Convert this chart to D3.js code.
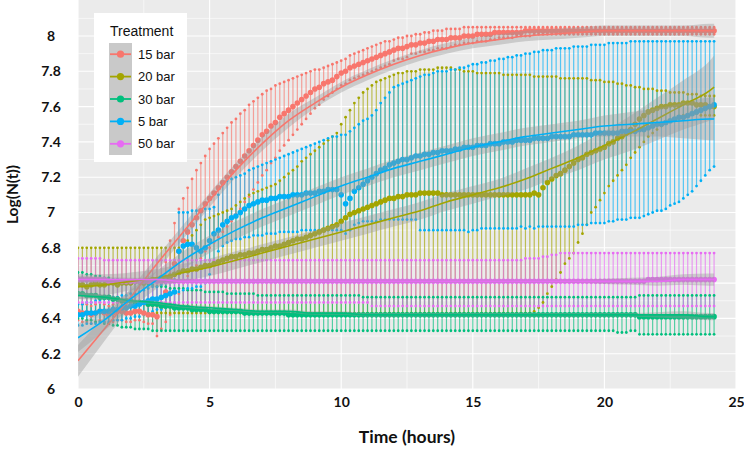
<!DOCTYPE html>
<html><head><meta charset="utf-8">
<script src="https://cdn.jsdelivr.net/npm/d3@7"></script>
<style>body{margin:0;background:#fff;} svg{display:block;}</style>
</head><body><svg id="c" width="744" height="449"></svg>
<script>
// ---------- categories / ticks ----------
const treatments = ["15 bar","20 bar","30 bar","5 bar","50 bar"];
const colors = ["#F8766D","#A3A500","#00BF7D","#00B0F6","#E76BF3"];
const xTicks = [0,5,10,15,20,25];
const yTicks = [6,6.2,6.4,6.6,6.8,7,7.2,7.4,7.6,7.8,8];
const yTickLabels = ["6","6.2","6.4","6.6","6.8","7","7.2","7.4","7.6","7.8","8"];
const stepHours = 1/6; // one measurement every 10 minutes

// ---------- 15 bar ----------
const mean15 = [
6.44,6.43,6.43,6.42,6.43,6.44,6.43,6.42,6.43,6.44,6.44,6.43,
6.43,6.44,6.44,6.43,6.42,6.42,6.41,6.47,6.55,6.63,6.71,6.78,
6.84,6.89,6.93,6.97,7.01,7.05,7.08,7.11,7.14,7.17,7.20,7.23,
7.26,7.29,7.32,7.35,7.38,7.41,7.44,7.46,7.49,7.51,7.54,7.56,
7.58,7.60,7.62,7.64,7.66,7.68,7.70,7.71,7.73,7.74,7.75,7.77,
7.79,7.80,7.82,7.83,7.84,7.85,7.86,7.87,7.88,7.89,7.90,7.91,
7.92,7.93,7.93,7.94,7.95,7.95,7.96,7.96,7.97,7.97,7.98,7.98,
7.98,7.99,7.99,7.99,8.00,8.00,8.00,8.01,8.01,8.01,8.01,8.02,
8.02,8.02,8.02,8.02,8.02,8.02,8.03,8.03,8.03,8.03,8.03,8.03,
8.03,8.03,8.03,8.03,8.03,8.03,8.03,8.03,8.03,8.03,8.03,8.03,
8.03,8.03,8.03,8.03,8.03,8.03,8.03,8.03,8.03,8.03,8.03,8.03,
8.03,8.03,8.03,8.03,8.03,8.03,8.03,8.03,8.03,8.03,8.03,8.03,
8.03,8.03];
const upper15 = [
6.49,6.48,6.48,6.47,6.48,6.49,6.48,6.47,6.48,6.49,6.49,6.48,
6.48,6.49,6.49,6.48,6.47,6.47,6.47,6.60,6.72,6.84,6.94,7.02,
7.08,7.14,7.19,7.24,7.28,7.32,7.36,7.39,7.42,7.45,7.48,7.51,
7.53,7.56,7.58,7.61,7.63,7.65,7.67,7.69,7.70,7.72,7.73,7.74,
7.75,7.76,7.77,7.78,7.79,7.80,7.81,7.81,7.82,7.83,7.84,7.85,
7.86,7.87,7.89,7.90,7.91,7.92,7.93,7.94,7.95,7.96,7.97,7.97,
7.98,7.99,7.99,8.00,8.00,8.01,8.01,8.02,8.02,8.03,8.03,8.03,
8.04,8.04,8.04,8.04,8.05,8.05,8.05,8.05,8.05,8.05,8.05,8.05,
8.05,8.05,8.05,8.05,8.05,8.05,8.05,8.05,8.05,8.05,8.05,8.05,
8.05,8.05,8.05,8.05,8.05,8.05,8.05,8.05,8.05,8.05,8.05,8.05,
8.05,8.05,8.05,8.05,8.05,8.05,8.05,8.05,8.05,8.05,8.05,8.05,
8.05,8.05,8.05,8.05,8.05,8.05,8.05,8.05,8.05,8.05,8.05,8.05,
8.05,8.05];
const lower15 = [
6.39,6.38,6.38,6.37,6.38,6.39,6.38,6.37,6.38,6.39,6.39,6.38,
6.38,6.39,6.39,6.38,6.37,6.37,6.30,6.34,6.38,6.42,6.48,6.54,
6.60,6.64,6.67,6.70,6.74,6.78,6.80,6.83,6.86,6.89,6.92,6.95,
6.99,7.02,7.06,7.09,7.13,7.17,7.21,7.24,7.28,7.31,7.35,7.38,
7.41,7.44,7.47,7.50,7.53,7.56,7.59,7.61,7.64,7.66,7.68,7.70,
7.72,7.73,7.75,7.76,7.77,7.78,7.79,7.80,7.81,7.82,7.83,7.84,
7.86,7.87,7.87,7.88,7.90,7.90,7.91,7.91,7.92,7.92,7.93,7.93,
7.93,7.94,7.95,7.95,7.96,7.96,7.96,7.97,7.97,7.97,7.98,7.98,
7.99,7.99,7.99,7.99,8.00,8.00,8.00,8.00,8.01,8.01,8.01,8.01,
8.01,8.01,8.01,8.01,8.01,8.01,8.01,8.01,8.01,8.01,8.01,8.01,
8.01,8.01,8.01,8.01,8.01,8.01,8.01,8.01,8.01,8.01,8.01,8.01,
8.01,8.01,8.01,8.01,8.01,8.01,8.01,8.01,8.01,8.01,8.01,8.01,
8.01,8.01];

// ---------- 20 bar ----------
const mean20 = [
6.59,6.59,6.58,6.59,6.60,6.59,6.59,6.60,6.60,6.59,6.60,6.60,
6.60,6.61,6.61,6.60,6.61,6.62,6.62,6.63,6.63,6.64,6.65,6.66,
6.67,6.67,6.68,6.68,6.69,6.70,6.70,6.71,6.72,6.73,6.74,6.75,
6.75,6.76,6.76,6.77,6.77,6.78,6.79,6.79,6.80,6.81,6.81,6.82,
6.83,6.84,6.85,6.85,6.86,6.87,6.88,6.89,6.90,6.91,6.92,6.93,
6.95,6.97,6.99,7.00,7.01,7.02,7.03,7.04,7.05,7.06,7.07,7.08,
7.08,7.09,7.09,7.10,7.10,7.10,7.11,7.11,7.11,7.11,7.11,7.10,
7.10,7.10,7.10,7.10,7.10,7.10,7.10,7.10,7.10,7.10,7.10,7.10,
7.10,7.10,7.10,7.10,7.10,7.10,7.10,7.10,7.11,7.10,7.14,7.17,
7.19,7.21,7.22,7.24,7.26,7.28,7.30,7.31,7.33,7.34,7.35,7.36,
7.37,7.39,7.40,7.42,7.43,7.45,7.47,7.50,7.53,7.55,7.57,7.58,
7.59,7.60,7.60,7.61,7.61,7.61,7.62,7.62,7.62,7.61,7.61,7.61,
7.60,7.60];
const upper20 = [
6.80,6.80,6.80,6.80,6.80,6.80,6.80,6.80,6.80,6.80,6.80,6.80,
6.80,6.80,6.80,6.80,6.80,6.80,6.80,6.80,6.80,6.80,6.80,6.80,
6.81,6.84,6.87,6.90,6.93,6.96,6.97,6.98,6.99,7.00,7.01,7.02,
7.04,7.06,7.08,7.10,7.11,7.12,7.13,7.14,7.15,7.16,7.18,7.20,
7.22,7.24,7.26,7.29,7.31,7.33,7.35,7.37,7.39,7.41,7.43,7.45,
7.50,7.54,7.58,7.62,7.65,7.68,7.70,7.72,7.74,7.75,7.76,7.77,
7.78,7.79,7.79,7.80,7.80,7.80,7.81,7.81,7.81,7.81,7.82,7.82,
7.82,7.82,7.81,7.81,7.80,7.80,7.80,7.79,7.79,7.79,7.79,7.79,
7.79,7.78,7.78,7.78,7.78,7.78,7.78,7.78,7.77,7.77,7.77,7.77,
7.77,7.77,7.76,7.76,7.76,7.76,7.76,7.76,7.76,7.75,7.75,7.75,
7.74,7.74,7.74,7.73,7.73,7.72,7.72,7.71,7.71,7.70,7.70,7.70,
7.69,7.69,7.69,7.68,7.68,7.68,7.68,7.67,7.67,7.67,7.66,7.66,
7.66,7.66];
const lower20 = [
6.43,6.43,6.43,6.42,6.43,6.43,6.43,6.42,6.43,6.43,6.43,6.43,
6.43,6.43,6.43,6.43,6.43,6.43,6.43,6.43,6.43,6.43,6.43,6.43,
6.43,6.43,6.43,6.43,6.43,6.43,6.43,6.43,6.43,6.43,6.43,6.43,
6.43,6.43,6.43,6.43,6.43,6.43,6.43,6.43,6.43,6.43,6.43,6.43,
6.43,6.43,6.43,6.43,6.43,6.43,6.43,6.43,6.43,6.43,6.43,6.43,
6.43,6.43,6.43,6.43,6.43,6.43,6.43,6.43,6.43,6.43,6.43,6.43,
6.43,6.43,6.43,6.43,6.43,6.43,6.43,6.43,6.43,6.43,6.43,6.43,
6.43,6.43,6.43,6.43,6.43,6.43,6.43,6.43,6.43,6.43,6.43,6.43,
6.43,6.43,6.43,6.43,6.43,6.43,6.43,6.43,6.44,6.46,6.49,6.54,
6.58,6.62,6.66,6.71,6.74,6.77,6.83,6.88,6.93,7.00,7.03,7.07,
7.11,7.15,7.18,7.21,7.24,7.27,7.31,7.34,7.37,7.40,7.43,7.45,
7.47,7.49,7.51,7.52,7.53,7.54,7.55,7.55,7.56,7.56,7.55,7.55,
7.55,7.55];

// ---------- 30 bar ----------
const mean30 = [
6.54,6.54,6.53,6.53,6.53,6.52,6.52,6.52,6.51,6.51,6.50,6.50,
6.50,6.49,6.49,6.49,6.48,6.48,6.48,6.47,6.47,6.47,6.46,6.46,
6.46,6.46,6.45,6.45,6.45,6.45,6.44,6.44,6.44,6.44,6.44,6.44,
6.44,6.44,6.43,6.43,6.43,6.43,6.43,6.43,6.43,6.43,6.43,6.43,
6.42,6.42,6.42,6.42,6.42,6.42,6.42,6.42,6.42,6.42,6.42,6.42,
6.42,6.42,6.42,6.42,6.42,6.42,6.42,6.42,6.42,6.42,6.42,6.42,
6.42,6.42,6.42,6.42,6.42,6.42,6.42,6.42,6.42,6.42,6.42,6.42,
6.42,6.42,6.42,6.42,6.42,6.42,6.42,6.42,6.42,6.42,6.42,6.42,
6.42,6.42,6.42,6.42,6.42,6.42,6.42,6.42,6.42,6.42,6.42,6.42,
6.42,6.42,6.42,6.42,6.42,6.42,6.42,6.42,6.42,6.42,6.42,6.42,
6.42,6.42,6.42,6.42,6.42,6.42,6.42,6.42,6.41,6.41,6.41,6.41,
6.41,6.41,6.41,6.41,6.41,6.41,6.41,6.41,6.41,6.41,6.41,6.41,
6.41,6.41];
const upper30 = [
6.66,6.66,6.65,6.65,6.64,6.64,6.63,6.63,6.62,6.62,6.61,6.61,
6.60,6.60,6.60,6.59,6.59,6.59,6.58,6.58,6.58,6.57,6.57,6.57,
6.57,6.56,6.56,6.56,6.56,6.55,6.55,6.55,6.55,6.55,6.54,6.54,
6.54,6.54,6.54,6.54,6.54,6.53,6.53,6.53,6.53,6.53,6.53,6.53,
6.53,6.53,6.53,6.53,6.53,6.53,6.53,6.53,6.53,6.53,6.53,6.53,
6.53,6.53,6.53,6.53,6.53,6.52,6.52,6.52,6.52,6.52,6.52,6.52,
6.52,6.52,6.52,6.52,6.52,6.52,6.52,6.52,6.52,6.52,6.52,6.52,
6.52,6.52,6.52,6.52,6.52,6.52,6.52,6.52,6.52,6.52,6.52,6.52,
6.52,6.52,6.52,6.52,6.52,6.52,6.52,6.52,6.52,6.52,6.52,6.52,
6.52,6.52,6.52,6.52,6.52,6.52,6.52,6.52,6.52,6.52,6.52,6.52,
6.52,6.52,6.52,6.52,6.52,6.52,6.52,6.52,6.53,6.53,6.53,6.53,
6.53,6.53,6.53,6.53,6.53,6.53,6.53,6.53,6.53,6.53,6.53,6.53,
6.53,6.53];
const lower30 = [
6.40,6.40,6.39,6.39,6.38,6.38,6.37,6.37,6.36,6.36,6.35,6.35,
6.35,6.34,6.34,6.34,6.34,6.33,6.33,6.33,6.33,6.33,6.33,6.33,
6.33,6.33,6.33,6.33,6.33,6.33,6.33,6.33,6.33,6.33,6.33,6.33,
6.33,6.33,6.33,6.33,6.33,6.33,6.33,6.33,6.33,6.33,6.33,6.33,
6.33,6.33,6.33,6.33,6.33,6.33,6.33,6.33,6.33,6.33,6.33,6.33,
6.33,6.33,6.33,6.33,6.33,6.33,6.33,6.33,6.33,6.33,6.33,6.33,
6.33,6.33,6.33,6.33,6.33,6.33,6.33,6.33,6.33,6.33,6.33,6.33,
6.33,6.33,6.33,6.33,6.33,6.33,6.33,6.33,6.33,6.33,6.33,6.33,
6.33,6.33,6.33,6.33,6.33,6.33,6.33,6.33,6.33,6.33,6.33,6.33,
6.33,6.33,6.33,6.33,6.33,6.33,6.33,6.33,6.33,6.33,6.33,6.33,
6.33,6.33,6.33,6.32,6.32,6.32,6.33,6.33,6.31,6.31,6.31,6.31,
6.31,6.31,6.31,6.31,6.31,6.31,6.31,6.31,6.31,6.31,6.31,6.31,
6.31,6.31];

// ---------- 5 bar ----------
const mean5 = [
6.42,6.42,6.43,6.43,6.43,6.44,6.44,6.44,6.45,6.45,6.46,6.46,
6.47,6.47,6.48,6.49,6.50,6.51,6.51,6.52,6.53,6.54,6.55,6.78,
6.81,6.82,6.82,6.80,6.78,6.80,6.84,6.88,6.90,6.93,6.95,6.97,
6.98,7.00,7.02,7.04,7.05,7.06,7.07,7.07,7.08,7.08,7.09,7.09,
7.09,7.10,7.10,7.10,7.11,7.11,7.11,7.12,7.12,7.13,7.13,7.13,
7.10,7.05,7.08,7.12,7.14,7.16,7.18,7.20,7.22,7.24,7.25,7.27,
7.28,7.29,7.30,7.30,7.31,7.32,7.32,7.33,7.33,7.34,7.34,7.35,
7.35,7.35,7.36,7.36,7.37,7.37,7.37,7.38,7.38,7.38,7.39,7.39,
7.39,7.40,7.40,7.40,7.41,7.41,7.41,7.41,7.42,7.42,7.42,7.42,
7.43,7.43,7.43,7.43,7.43,7.44,7.44,7.44,7.44,7.44,7.45,7.45,
7.45,7.45,7.45,7.45,7.46,7.46,7.46,7.46,7.47,7.47,7.48,7.49,
7.50,7.50,7.51,7.52,7.53,7.54,7.54,7.55,7.56,7.57,7.58,7.59,
7.60,7.61];
const upper5 = [
6.48,6.48,6.49,6.49,6.50,6.50,6.51,6.51,6.52,6.52,6.53,6.53,
6.54,6.54,6.55,6.56,6.57,6.58,6.58,6.59,6.60,6.61,6.62,7.00,
7.00,7.00,7.01,7.01,7.01,7.02,7.02,7.03,7.10,7.16,7.18,7.19,
7.20,7.21,7.22,7.24,7.25,7.26,7.27,7.28,7.29,7.30,7.31,7.32,
7.33,7.34,7.35,7.36,7.37,7.38,7.39,7.40,7.41,7.42,7.43,7.43,
7.44,7.44,7.46,7.48,7.50,7.52,7.53,7.55,7.58,7.62,7.65,7.68,
7.71,7.72,7.73,7.74,7.75,7.76,7.77,7.78,7.78,7.79,7.80,7.80,
7.80,7.81,7.81,7.82,7.82,7.83,7.84,7.84,7.85,7.85,7.86,7.86,
7.87,7.87,7.88,7.88,7.89,7.89,7.90,7.90,7.91,7.91,7.92,7.92,
7.92,7.93,7.93,7.93,7.93,7.94,7.94,7.94,7.94,7.95,7.95,7.95,
7.95,7.96,7.96,7.96,7.96,7.96,7.97,7.97,7.97,7.97,7.97,7.97,
7.97,7.97,7.97,7.97,7.97,7.97,7.97,7.97,7.97,7.97,7.97,7.97,
7.97,7.97];
const lower5 = [
6.36,6.36,6.37,6.37,6.37,6.38,6.38,6.38,6.39,6.39,6.39,6.40,
6.40,6.41,6.41,6.42,6.43,6.44,6.45,6.45,6.46,6.47,6.48,6.55,
6.56,6.57,6.57,6.58,6.58,6.60,6.65,6.72,6.78,6.81,6.83,6.84,
6.85,6.85,6.86,6.86,6.87,6.87,6.87,6.88,6.88,6.88,6.89,6.89,
6.89,6.89,6.89,6.90,6.90,6.90,6.90,6.90,6.90,6.90,6.90,6.90,
6.90,6.88,6.90,6.93,6.94,6.95,6.95,6.95,6.95,6.96,6.96,6.96,
6.96,6.96,6.96,6.96,6.96,6.96,6.90,6.90,6.90,6.90,6.90,6.90,
6.90,6.90,6.90,6.90,6.90,6.89,6.90,6.90,6.91,6.91,6.91,6.91,
6.91,6.91,6.91,6.91,6.91,6.92,6.91,6.92,6.91,6.92,6.92,6.92,
6.92,6.92,6.92,6.92,6.92,6.92,6.93,6.93,6.93,6.94,6.94,6.94,
6.94,6.95,6.95,6.96,6.96,6.96,6.97,6.97,6.97,6.98,6.99,7.00,
7.01,7.01,7.02,7.04,7.05,7.06,7.08,7.10,7.12,7.15,7.18,7.21,
7.24,7.26];

// ---------- 50 bar ----------
const mean50 = [
6.62,6.62,6.62,6.62,6.62,6.62,6.62,6.61,6.61,6.61,6.61,6.61,
6.61,6.61,6.61,6.61,6.61,6.61,6.61,6.61,6.61,6.61,6.61,6.61,
6.61,6.61,6.61,6.61,6.61,6.61,6.61,6.61,6.61,6.61,6.61,6.61,
6.61,6.61,6.61,6.61,6.61,6.61,6.61,6.61,6.61,6.61,6.61,6.61,
6.61,6.61,6.61,6.61,6.61,6.61,6.61,6.61,6.61,6.61,6.61,6.61,
6.61,6.61,6.61,6.61,6.61,6.61,6.61,6.61,6.61,6.61,6.61,6.61,
6.61,6.61,6.61,6.61,6.61,6.61,6.61,6.61,6.61,6.61,6.61,6.61,
6.61,6.61,6.61,6.61,6.61,6.61,6.61,6.61,6.61,6.61,6.61,6.61,
6.61,6.61,6.61,6.61,6.61,6.61,6.61,6.61,6.61,6.61,6.61,6.61,
6.61,6.61,6.61,6.61,6.61,6.61,6.61,6.61,6.61,6.61,6.61,6.61,
6.61,6.61,6.61,6.61,6.61,6.61,6.61,6.61,6.61,6.61,6.62,6.62,
6.62,6.62,6.62,6.62,6.62,6.62,6.62,6.62,6.62,6.62,6.62,6.62,
6.62,6.62];
const upper50 = [
6.74,6.74,6.74,6.74,6.74,6.74,6.73,6.73,6.73,6.73,6.73,6.73,
6.73,6.73,6.73,6.73,6.73,6.73,6.73,6.73,6.73,6.73,6.73,6.73,
6.73,6.73,6.73,6.73,6.73,6.73,6.73,6.73,6.73,6.73,6.73,6.73,
6.73,6.73,6.73,6.73,6.73,6.73,6.73,6.73,6.73,6.73,6.73,6.73,
6.73,6.73,6.73,6.73,6.73,6.73,6.73,6.73,6.73,6.73,6.73,6.73,
6.73,6.73,6.73,6.73,6.73,6.73,6.73,6.73,6.73,6.73,6.73,6.73,
6.73,6.73,6.73,6.73,6.73,6.73,6.73,6.73,6.73,6.73,6.73,6.73,
6.73,6.73,6.73,6.73,6.73,6.73,6.73,6.73,6.73,6.73,6.73,6.73,
6.73,6.73,6.73,6.73,6.73,6.73,6.74,6.74,6.74,6.74,6.75,6.75,
6.76,6.76,6.77,6.77,6.77,6.77,6.77,6.77,6.77,6.77,6.77,6.77,
6.77,6.77,6.77,6.77,6.77,6.77,6.77,6.77,6.77,6.77,6.77,6.77,
6.77,6.77,6.77,6.77,6.77,6.77,6.77,6.77,6.77,6.77,6.77,6.77,
6.77,6.77];
const lower50 = [
6.49,6.49,6.49,6.49,6.49,6.49,6.49,6.49,6.49,6.49,6.49,6.49,
6.49,6.49,6.49,6.49,6.49,6.49,6.49,6.49,6.49,6.49,6.49,6.49,
6.49,6.49,6.49,6.49,6.49,6.49,6.49,6.49,6.49,6.49,6.49,6.49,
6.49,6.49,6.49,6.49,6.49,6.49,6.49,6.49,6.49,6.49,6.49,6.49,
6.49,6.49,6.49,6.49,6.49,6.49,6.49,6.49,6.49,6.49,6.49,6.49,
6.49,6.49,6.49,6.49,6.49,6.49,6.49,6.47,6.47,6.47,6.47,6.47,
6.47,6.47,6.47,6.47,6.47,6.47,6.47,6.47,6.47,6.47,6.47,6.47,
6.47,6.47,6.47,6.47,6.47,6.47,6.47,6.47,6.47,6.47,6.47,6.47,
6.47,6.47,6.47,6.47,6.47,6.47,6.47,6.47,6.47,6.47,6.47,6.47,
6.47,6.47,6.47,6.47,6.47,6.47,6.47,6.47,6.47,6.47,6.47,6.47,
6.47,6.47,6.47,6.47,6.47,6.47,6.47,6.47,6.47,6.47,6.47,6.47,
6.47,6.47,6.47,6.47,6.47,6.47,6.47,6.47,6.47,6.47,6.47,6.47,
6.47,6.47];

// ---------- smoothed fits (loess) read at hourly knots ----------
const smoothTimes = [0,1,2,3,4,5,6,7,8,9,10,11,12,13,14,15,16,17,18,19,20,21,22,23,24,24.17];
const fit15 = [6.16,6.34,6.52,6.71,6.89,7.07,7.24,7.39,7.52,7.62,7.71,7.78,7.84,7.89,7.93,7.96,7.98,8.00,8.01,8.02,8.03,8.03,8.03,8.03,8.03,8.03];
const se15  = [0.09,0.07,0.05,0.04,0.04,0.04,0.04,0.04,0.04,0.03,0.03,0.03,0.03,0.03,0.03,0.03,0.03,0.03,0.03,0.03,0.03,0.03,0.03,0.03,0.04,0.04];
const fit20 = [6.58,6.59,6.61,6.63,6.66,6.69,6.73,6.77,6.81,6.85,6.89,6.93,6.97,7.01,7.06,7.10,7.14,7.19,7.25,7.31,7.38,7.45,7.53,7.61,7.69,7.71];
const se20  = [0.07,0.06,0.05,0.05,0.05,0.05,0.05,0.05,0.05,0.05,0.05,0.05,0.05,0.05,0.05,0.05,0.05,0.06,0.06,0.07,0.08,0.10,0.12,0.14,0.17,0.18];
const fit30 = [6.53,6.52,6.50,6.49,6.47,6.46,6.45,6.44,6.44,6.43,6.43,6.42,6.42,6.42,6.42,6.42,6.42,6.42,6.42,6.42,6.42,6.42,6.42,6.42,6.41,6.41];
const se30  = [0.02,0.015,0.01,0.01,0.01,0.01,0.01,0.01,0.01,0.01,0.01,0.01,0.01,0.01,0.01,0.01,0.01,0.01,0.01,0.01,0.01,0.01,0.015,0.02,0.02,0.02];
const fit5  = [6.29,6.39,6.51,6.62,6.73,6.82,6.90,6.97,7.03,7.09,7.15,7.20,7.25,7.29,7.33,7.37,7.40,7.43,7.45,7.47,7.49,7.50,7.51,7.52,7.53,7.53];
const se5   = [0.08,0.06,0.05,0.05,0.05,0.05,0.05,0.05,0.05,0.05,0.05,0.05,0.05,0.05,0.05,0.05,0.05,0.05,0.05,0.05,0.06,0.07,0.08,0.10,0.12,0.12];
const fit50 = [6.62,6.62,6.62,6.62,6.61,6.61,6.61,6.61,6.61,6.61,6.61,6.61,6.61,6.61,6.61,6.61,6.61,6.61,6.61,6.61,6.61,6.61,6.61,6.62,6.62,6.62];
const se50  = [0.02,0.015,0.01,0.01,0.01,0.01,0.01,0.01,0.01,0.01,0.01,0.01,0.01,0.01,0.01,0.01,0.01,0.01,0.01,0.01,0.015,0.02,0.025,0.03,0.035,0.035];

// ---------- assemble ----------
const raw = [
  {mean:mean15, hi:upper15, lo:lower15, fit:fit15, se:se15},
  {mean:mean20, hi:upper20, lo:lower20, fit:fit20, se:se20},
  {mean:mean30, hi:upper30, lo:lower30, fit:fit30, se:se30},
  {mean:mean5,  hi:upper5,  lo:lower5,  fit:fit5,  se:se5},
  {mean:mean50, hi:upper50, lo:lower50, fit:fit50, se:se50}
];
const series = treatments.map((name,k)=>{
  const r = raw[k];
  const n = Math.min(r.mean.length, r.hi.length, r.lo.length);
  const pts = d3.range(n).map(i=>({t:i*stepHours, m:r.mean[i], hi:r.hi[i], lo:r.lo[i]}));
  const sm = smoothTimes.map((t,i)=>({t, f:r.fit[i], se:r.se[i]}));
  return {name, color:colors[k], pts, sm};
});

const svg = d3.select("#c");
const P = {l:78, r:736, t:0, b:389};
const x = d3.scaleLinear().domain([0,25]).range([P.l,P.r]);
const y = d3.scaleLinear().domain([6,8.204]).range([P.b,P.t]);

// panel
svg.append("rect").attr("x",P.l).attr("y",P.t).attr("width",P.r-P.l).attr("height",P.b-P.t).attr("fill","#EBEBEB");
const grid = svg.append("g");
const yMinor = d3.range(6.1,8.2,0.2);
grid.selectAll(".ym").data(yMinor).join("line")
  .attr("x1",P.l).attr("x2",P.r).attr("y1",d=>y(d)).attr("y2",d=>y(d))
  .attr("stroke","#fff").attr("stroke-width",0.6);
grid.selectAll(".yM").data(yTicks).join("line")
  .attr("x1",P.l).attr("x2",P.r).attr("y1",d=>y(d)).attr("y2",d=>y(d))
  .attr("stroke","#fff").attr("stroke-width",1.1);
grid.selectAll(".xm").data([2.5,7.5,12.5,17.5,22.5]).join("line")
  .attr("y1",P.t).attr("y2",P.b).attr("x1",d=>x(d)).attr("x2",d=>x(d))
  .attr("stroke","#fff").attr("stroke-width",0.6);
grid.selectAll(".xM").data(xTicks).join("line")
  .attr("y1",P.t).attr("y2",P.b).attr("x1",d=>x(d)).attr("x2",d=>x(d))
  .attr("stroke","#fff").attr("stroke-width",1.1);

svg.append("clipPath").attr("id","clip").append("rect")
  .attr("x",P.l).attr("y",P.t).attr("width",P.r-P.l).attr("height",P.b-P.t);
const plot = svg.append("g").attr("clip-path","url(#clip)");

// error bar lines
series.forEach(s=>{
  plot.append("g").selectAll("line").data(s.pts).join("line")
    .attr("x1",d=>x(d.t)).attr("x2",d=>x(d.t))
    .attr("y1",d=>y(d.lo)).attr("y2",d=>y(d.hi))
    .attr("stroke",s.color).attr("stroke-opacity",0.65).attr("stroke-width",1.2);
});
// end points of error bars
series.forEach(s=>{
  const g = plot.append("g").attr("fill",s.color);
  g.selectAll(".u").data(s.pts).join("circle").attr("cx",d=>x(d.t)).attr("cy",d=>y(d.hi)).attr("r",1.4);
  g.selectAll(".l").data(s.pts).join("circle").attr("cx",d=>x(d.t)).attr("cy",d=>y(d.lo)).attr("r",1.4);
});
// mean points
series.forEach(s=>{
  plot.append("g").selectAll("circle").data(s.pts).join("circle")
    .attr("cx",d=>x(d.t)).attr("cy",d=>y(d.m)).attr("r",2.8).attr("fill",s.color);
});
// smooth ribbons and lines
const area = d3.area().curve(d3.curveMonotoneX).x(d=>x(d.t)).y0(d=>y(d.f-d.se)).y1(d=>y(d.f+d.se));
const line = d3.line().curve(d3.curveMonotoneX).x(d=>x(d.t)).y(d=>y(d.f));
series.forEach(s=>{
  plot.append("path").datum(s.sm).attr("d",area).attr("fill","#999999").attr("fill-opacity",0.4);
  plot.append("path").datum(s.sm).attr("d",line).attr("fill","none").attr("stroke",s.color).attr("stroke-width",1.6);
});

// axes
const tickFont = "Lato, 'Open Sans', sans-serif";
const xAxis = svg.append("g").attr("transform",`translate(0,${P.b})`)
  .call(d3.axisBottom(x).tickValues(xTicks).tickSize(0).tickPadding(8).tickFormat(d3.format("d")));
xAxis.select(".domain").remove();
xAxis.selectAll("text").attr("font-family",tickFont).attr("font-weight",700).attr("font-size",14).attr("fill","#111");
const yAxis = svg.append("g").attr("transform",`translate(${P.l},0)`)
  .call(d3.axisLeft(y).tickValues(yTicks).tickSize(0).tickFormat((d,i)=>yTickLabels[i]));
yAxis.select(".domain").remove();
yAxis.selectAll("text").attr("x",-27).attr("text-anchor","middle")
  .attr("font-family",tickFont).attr("font-weight",700).attr("font-size",14).attr("fill","#111");

svg.append("text").attr("x",(P.l+P.r)/2).attr("y",443).attr("text-anchor","middle")
  .attr("font-family",tickFont).attr("font-weight",700).attr("font-size",17.5).attr("fill","#111")
  .text("Time (hours)");
svg.append("text").attr("transform",`translate(18,${(P.t+P.b)/2}) rotate(-90)`).attr("text-anchor","middle")
  .attr("font-family",tickFont).attr("font-weight",700).attr("font-size",15.5).attr("fill","#111")
  .text("Log(N(t))");

// legend
const lg = svg.append("g");
lg.append("rect").attr("x",94).attr("y",13).attr("width",93).attr("height",149).attr("fill","#fff");
lg.append("text").attr("x",110).attr("y",36).attr("font-family","'Liberation Sans', Arial, sans-serif")
  .attr("font-size",14).attr("fill","#111").text("Treatment");
const keyH = 22.4, keyTop = 43;
lg.append("rect").attr("x",109).attr("y",keyTop).attr("width",23).attr("height",keyH*5).attr("fill","#C9C9C9");
series.forEach((s,i)=>{
  const cy = keyTop + keyH*i + keyH/2;
  lg.append("line").attr("x1",110).attr("x2",131).attr("y1",cy).attr("y2",cy).attr("stroke",s.color).attr("stroke-width",1.8);
  lg.append("circle").attr("cx",120.5).attr("cy",cy).attr("r",3.6).attr("fill",s.color);
  lg.append("text").attr("x",138).attr("y",cy+4.5).attr("font-family","'Liberation Sans', Arial, sans-serif")
    .attr("font-size",13).attr("fill","#111").text(s.name);
});
</script>
</body></html>
